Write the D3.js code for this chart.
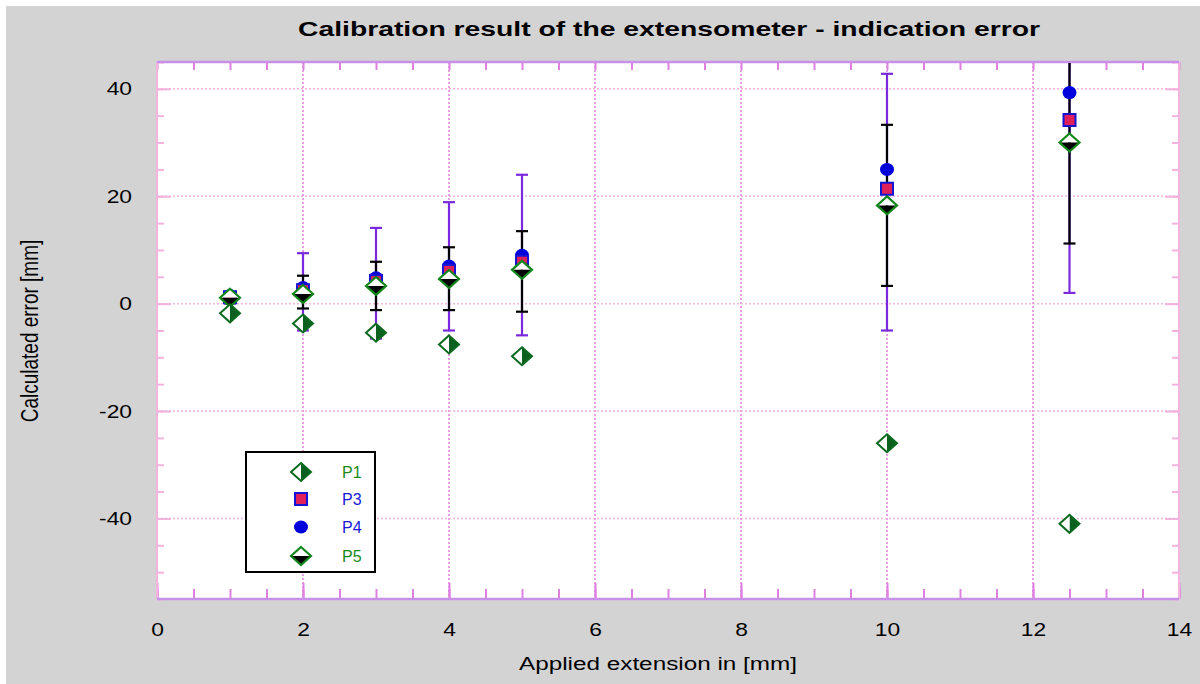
<!DOCTYPE html>
<html>
<head>
<meta charset="utf-8">
<script src="https://cdn.jsdelivr.net/npm/d3@7"></script>
<style>
body { margin: 0; background: #fff; }
text { font-family: "Liberation Sans", Arial, sans-serif; }
</style>
</head>
<body>
<svg id="chart" width="1200" height="684"></svg>
<script>
// values
var xs = [1, 2, 3, 4, 5, 10, 12.5];
var p1 = [-1.8, -3.7, -5.4, -7.6, -9.8, -26, -41];
var p3 = [1.2, 2.5, 4.2, 6.1, 7.8, 21.4, 34.2];
var p4 = [1.5, 3.0, 4.8, 7.0, 9.0, 25.0, 39.3];
var p5 = [1.1, 1.8, 3.3, 4.6, 6.3, 18.3, 30.0];
var blackLo = [0.3, -0.9, -1.2, -1.2, -1.5, 3.3, 11.2];
var blackHi = [1.8, 5.2, 7.8, 10.5, 13.5, 33.3, 49];
var purpleLo = [0, -5, -6.5, -5, -5.9, -5, 2];
var purpleHi = [2, 9.4, 14.1, 18.9, 24, 42.8, 60];
var xTicks = [0, 2, 4, 6, 8, 10, 12, 14];
var yTicks = [-40, -20, 0, 20, 40];
var legendNames = ["P1", "P3", "P4", "P5"];

var svg = d3.select("#chart");
var L = 157, R = 1179, T = 62, B = 599;

var x = d3.scaleLinear().domain([0, 14]).range([L, R]);
var y = d3.scaleLinear().domain([-55, 45]).range([B, T]);

// the original is a bit wider than tall, so text gets stretched sideways
var stretch = function(sel, k){
    sel.each(function(){
        var w = this.getComputedTextLength();
        d3.select(this).attr("textLength", w * k).attr("lengthAdjust", "spacingAndGlyphs");
    });
};

// background
svg.append("rect").attr("x", 6).attr("y", 6).attr("width", 1194).attr("height", 678).attr("fill", "#d3d3d3");
svg.append("rect").attr("x", L).attr("y", T).attr("width", R - L).attr("height", B - T).attr("fill", "#fff");

// grid
var grid = svg.append("g");
grid.selectAll("line.vg").data(xTicks.slice(1, -1)).enter().append("line")
    .attr("x1", function(d){return x(d);}).attr("x2", function(d){return x(d);})
    .attr("y1", T).attr("y2", B)
    .attr("stroke", "#e07ee0").attr("stroke-width", 1.5).attr("stroke-dasharray", "2,2");
grid.selectAll("line.hg").data(yTicks).enter().append("line")
    .attr("x1", L).attr("x2", R)
    .attr("y1", function(d){return y(d);}).attr("y2", function(d){return y(d);})
    .attr("stroke", "#f2b4dc").attr("stroke-width", 1.5).attr("stroke-dasharray", "2,2");

// axes (ticks pointing inward)
var minorX = d3.range(0, 14.01, 0.5);
var minorY = d3.range(-55, 45.01, 5);

var bottomAx = svg.append("g").attr("transform", "translate(0," + B + ")")
    .call(d3.axisBottom(x).tickValues(minorX).tickSize(-10).tickFormat(""));
var bottomMaj = svg.append("g").attr("transform", "translate(0," + B + ")")
    .call(d3.axisBottom(x).tickValues(xTicks).tickSize(-16).tickPadding(24).tickFormat(d3.format("d")));
var topAx = svg.append("g").attr("transform", "translate(0," + T + ")")
    .call(d3.axisTop(x).tickValues(minorX).tickSize(-8).tickFormat(""));
var leftAx = svg.append("g").attr("transform", "translate(" + L + ",0)")
    .call(d3.axisLeft(y).tickValues(minorY).tickSize(-7).tickFormat(""));
var leftMaj = svg.append("g").attr("transform", "translate(" + L + ",0)")
    .call(d3.axisLeft(y).tickValues(yTicks).tickSize(-14).tickPadding(25).tickFormat(function(d){ return String(d); }));
var rightAx = svg.append("g").attr("transform", "translate(" + R + ",0)")
    .call(d3.axisRight(y).tickValues(minorY).tickSize(-7).tickFormat(""));
var rightMaj = svg.append("g").attr("transform", "translate(" + R + ",0)")
    .call(d3.axisRight(y).tickValues(yTicks).tickSize(-14).tickFormat(""));

[bottomAx, bottomMaj, topAx].forEach(function(g){
    g.select(".domain").remove();
    g.selectAll(".tick line").attr("stroke", "#de80de").attr("stroke-width", 2);
});
[leftAx, leftMaj, rightAx, rightMaj].forEach(function(g){
    g.select(".domain").remove();
    g.selectAll(".tick line").attr("stroke", "#f2b4dc").attr("stroke-width", 2);
});
bottomMaj.selectAll("text").attr("font-size", 19).attr("fill", "#000").call(stretch, 1.2);
leftMaj.selectAll("text").attr("font-size", 19).attr("fill", "#000").call(stretch, 1.2);

// frame
svg.append("line").attr("x1", L).attr("x2", L).attr("y1", T).attr("y2", B).attr("stroke", "#f2b4dc").attr("stroke-width", 2);
svg.append("line").attr("x1", R).attr("x2", R).attr("y1", T).attr("y2", B).attr("stroke", "#f2b4dc").attr("stroke-width", 2);
svg.append("line").attr("x1", L).attr("x2", R).attr("y1", T).attr("y2", T).attr("stroke", "#c890e8").attr("stroke-width", 2.5);
svg.append("line").attr("x1", L).attr("x2", R).attr("y1", B).attr("y2", B).attr("stroke", "#c890e8").attr("stroke-width", 2.5);

// clip
svg.append("clipPath").attr("id", "clip").append("rect")
    .attr("x", L).attr("y", T + 1).attr("width", R - L).attr("height", B - T - 2);
var plot = svg.append("g").attr("clip-path", "url(#clip)");

var errBars = function(lo, hi, color){
    var g = plot.append("g").attr("stroke", color).attr("stroke-width", 2.2);
    xs.forEach(function(d, i){
        g.append("line").attr("x1", x(d)).attr("x2", x(d)).attr("y1", y(lo[i])).attr("y2", y(hi[i]));
        [lo[i], hi[i]].forEach(function(v){
            g.append("line").attr("x1", x(d) - 6).attr("x2", x(d) + 6).attr("y1", y(v)).attr("y2", y(v));
        });
    });
};
errBars(purpleLo, purpleHi, "#7a2adc");
errBars(blackLo, blackHi, "#000");

// marker drawers
var drawP1 = function(g, cx, cy){
    g.append("path").attr("d", "M" + cx + "," + (cy - 9) + " L" + (cx + 10) + "," + cy + " L" + cx + "," + (cy + 9) + " Z").attr("fill", "#0b6020");
    g.append("path").attr("d", "M" + cx + "," + (cy - 9) + " L" + (cx - 10) + "," + cy + " L" + cx + "," + (cy + 9) + " Z").attr("fill", "#fff");
    g.append("path").attr("d", "M" + cx + "," + (cy - 9) + " L" + (cx + 10) + "," + cy + " L" + cx + "," + (cy + 9) + " L" + (cx - 10) + "," + cy + " Z")
        .attr("fill", "none").attr("stroke", "#0b6a1e").attr("stroke-width", 2);
};
var drawP5 = function(g, cx, cy){
    g.append("path").attr("d", "M" + (cx - 10) + "," + cy + " L" + cx + "," + (cy - 9) + " L" + (cx + 10) + "," + cy + " Z").attr("fill", "#fff");
    g.append("path").attr("d", "M" + (cx - 10) + "," + cy + " L" + cx + "," + (cy + 9) + " L" + (cx + 10) + "," + cy + " Z").attr("fill", "#000");
    g.append("path").attr("d", "M" + cx + "," + (cy - 9) + " L" + (cx + 10) + "," + cy + " L" + cx + "," + (cy + 9) + " L" + (cx - 10) + "," + cy + " Z")
        .attr("fill", "none").attr("stroke", "#13861c").attr("stroke-width", 2.2);
};
var drawP3 = function(g, cx, cy){
    g.append("rect").attr("x", cx - 6).attr("y", cy - 6).attr("width", 12).attr("height", 12)
        .attr("fill", "#e0205a").attr("stroke", "#1414d4").attr("stroke-width", 2);
};
var drawP4 = function(g, cx, cy){
    g.append("ellipse").attr("cx", cx).attr("cy", cy).attr("rx", 7).attr("ry", 6.5).attr("fill", "#0000dc");
};

var mk = plot.append("g");
xs.forEach(function(d, i){ drawP4(mk, x(d), y(p4[i])); });
xs.forEach(function(d, i){ drawP3(mk, x(d), y(p3[i])); });
xs.forEach(function(d, i){ drawP5(mk, x(d), y(p5[i])); });
xs.forEach(function(d, i){ drawP1(mk, x(d), y(p1[i])); });

// legend
var lg = svg.append("g");
lg.append("rect").attr("x", 246).attr("y", 452).attr("width", 129).attr("height", 120)
    .attr("fill", "#fff").attr("stroke", "#000").attr("stroke-width", 2);
var legendDraw = [drawP1, drawP3, drawP4, drawP5];
var legendColors = ["#1a8a1a", "#1818d8", "#1818d8", "#1a8a1a"];
var legendY = [472, 499, 527, 556];
legendNames.forEach(function(n, i){
    legendDraw[i](lg, 301, legendY[i]);
    lg.append("text").attr("x", 342).attr("y", legendY[i] + 6).attr("font-size", 16)
        .attr("fill", legendColors[i]).text(n);
});

// titles
svg.append("text").attr("x", 669).attr("y", 36).attr("text-anchor", "middle")
    .attr("font-size", 21).attr("font-weight", "bold")
    .attr("textLength", 742).attr("lengthAdjust", "spacingAndGlyphs")
    .text("Calibration result of the extensometer - indication error");
svg.append("text").attr("x", 658).attr("y", 670).attr("text-anchor", "middle")
    .attr("font-size", 18).attr("textLength", 278).attr("lengthAdjust", "spacingAndGlyphs")
    .text("Applied extension in [mm]");
svg.append("text").attr("transform", "translate(38,331) scale(1.3,1) rotate(-90)").attr("text-anchor", "middle")
    .attr("font-size", 19).text("Calculated error [mm]");
</script>
</body>
</html>
